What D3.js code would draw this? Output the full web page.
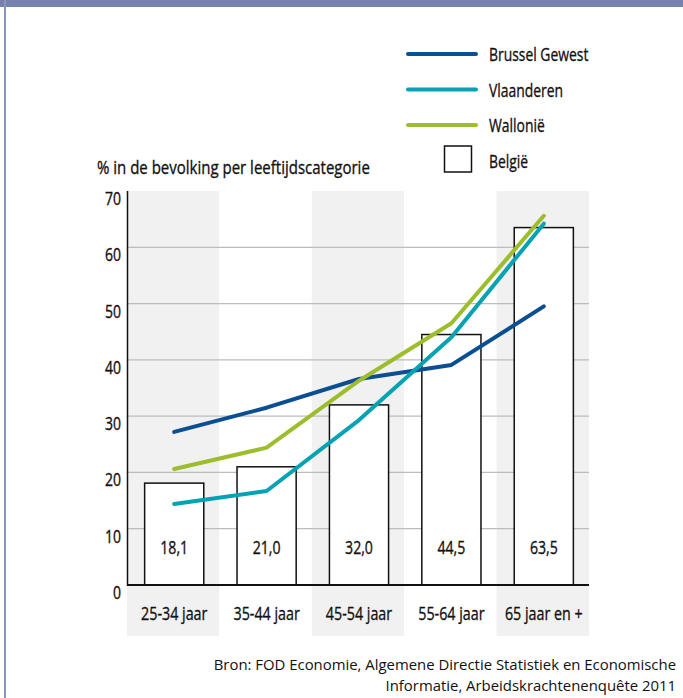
<!DOCTYPE html>
<html>
<head>
<meta charset="utf-8">
<script src="https://cdn.jsdelivr.net/npm/d3@7"></script>
<style>
  body { margin: 0; background: #fff; }
  text { font-family: "Open Sans", "Noto Sans", sans-serif; fill: #111; }
  .cond { stroke: #111; stroke-width: 0.35; }
</style>
</head>
<body>
<svg width="683" height="698"></svg>
<script>
const categories = ["25-34 jaar", "35-44 jaar", "45-54 jaar", "55-64 jaar", "65 jaar en +"];
const belgie = [18.1, 21.0, 32.0, 44.5, 63.5];
const brussel = [27.2, 31.5, 36.6, 39.1, 49.5];
const vlaanderen = [14.4, 16.7, 29.3, 44.0, 64.2];
const wallonie = [20.6, 24.4, 36.3, 46.5, 65.6];
const yTicks = [0, 10, 20, 30, 40, 50, 60, 70];

const series = [
  { name: "Brussel Gewest", values: brussel, color: "#0b4f93" },
  { name: "Vlaanderen", values: vlaanderen, color: "#04a2b3" },
  { name: "Wallonië", values: wallonie, color: "#9dbd2c" },
];

const svg = d3.select("svg");

// frame
svg.append("rect").attr("x", 0).attr("y", 0).attr("width", 683).attr("height", 7).attr("fill", "#7681ad");
svg.append("rect").attr("x", 4).attr("y", 0).attr("width", 2).attr("height", 698).attr("fill", "#8c95b8");

const x = d3.scaleBand().domain(categories).range([127, 589]).padding(0);
const y = d3.scaleLinear().domain([0, 70]).range([585, 191]);
const barW = x.bandwidth() * 0.64;
const cx = (i) => x(categories[i]) + x.bandwidth() / 2 + 1;

// no condensed face installed, so squeeze Open Sans horizontally
const condText = (g, data, fx, fy, size, anchor, squeeze) =>
  g.selectAll("text")
    .data(data)
    .join("text")
    .attr("class", "cond")
    .attr("transform", (d, i) => `translate(${fx(d, i)},${fy(d, i)}) scale(${squeeze},1)`)
    .attr("text-anchor", anchor)
    .attr("font-size", size);

// alternating gray bands
svg.append("g")
  .selectAll("rect")
  .data(categories)
  .join("rect")
  .attr("x", (d) => x(d))
  .attr("y", y(70))
  .attr("width", x.bandwidth())
  .attr("height", 636 - y(70))
  .attr("fill", (d, i) => (i % 2 === 0 ? "#f1f1f1" : "#fff"));

// gridlines
svg.append("g")
  .selectAll("line")
  .data(yTicks.filter((t) => t > 0 && t < 70))
  .join("line")
  .attr("x1", 127)
  .attr("x2", 589)
  .attr("y1", (d) => y(d))
  .attr("y2", (d) => y(d))
  .attr("stroke", "#bcbcbc")
  .attr("stroke-width", 1.2);

// bars (België)
svg.append("g")
  .selectAll("rect")
  .data(belgie)
  .join("rect")
  .attr("x", (d, i) => cx(i) - barW / 2)
  .attr("y", (d) => y(d))
  .attr("width", barW)
  .attr("height", (d) => y(0) - y(d))
  .attr("fill", "#fff")
  .attr("stroke", "#111")
  .attr("stroke-width", 1.5);

condText(svg.append("g"), belgie, (d, i) => cx(i), () => 553.5, 18.8, "middle", 0.75)
  .text((d) => d.toFixed(1).replace(".", ","));

// lines
const line = d3.line()
  .x((d, i) => cx(i))
  .y((d) => y(d));

svg.append("g")
  .selectAll("path")
  .data(series)
  .join("path")
  .attr("d", (d) => line(d.values))
  .attr("fill", "none")
  .attr("stroke", (d) => d.color)
  .attr("stroke-width", 4)
  .attr("stroke-linecap", "round")
  .attr("stroke-linejoin", "round");

// axes
svg.append("line").attr("x1", 127.5).attr("x2", 127.5).attr("y1", y(70)).attr("y2", y(0) + 1).attr("stroke", "#111").attr("stroke-width", 1.5);
svg.append("line").attr("x1", 127).attr("x2", 589).attr("y1", y(0)).attr("y2", y(0)).attr("stroke", "#111").attr("stroke-width", 1.8);

condText(svg.append("g"), yTicks, () => 121, (d) => y(d) + 14, 17.5, "end", 0.8).text((d) => d);

condText(svg.append("g"), categories, (d, i) => cx(i), () => 619.5, 18.8, "middle", 0.76).text((d) => d);

// axis title
condText(svg.append("g"), ["% in de bevolking per leeftijdscategorie"], () => 97, () => 174, 19, "start", 0.79)
  .text((d) => d);

// legend
const legend = svg.append("g");
legend.selectAll("line")
  .data(series)
  .join("line")
  .attr("x1", 408)
  .attr("x2", 476)
  .attr("y1", (d, i) => 54 + i * 35.5)
  .attr("y2", (d, i) => 54 + i * 35.5)
  .attr("stroke", (d) => d.color)
  .attr("stroke-width", 4)
  .attr("stroke-linecap", "round");
legend.append("rect")
  .attr("x", 444.5).attr("y", 146).attr("width", 27).attr("height", 26)
  .attr("fill", "#fff").attr("stroke", "#111").attr("stroke-width", 1.5);
condText(legend.append("g"), series.map((d) => d.name).concat(["België"]), () => 489, (d, i) => 61 + i * 35.5, 18.8, "start", 0.74)
  .text((d) => d);

// source
svg.append("g")
  .selectAll("text")
  .data(["Bron: FOD Economie, Algemene Directie Statistiek en Economische", "Informatie, Arbeidskrachtenenquête 2011"])
  .join("text")
  .attr("x", 676)
  .attr("y", (d, i) => 670 + i * 21)
  .attr("text-anchor", "end")
  .attr("font-size", 14.9)
  .text((d) => d);
</script>
</body>
</html>
